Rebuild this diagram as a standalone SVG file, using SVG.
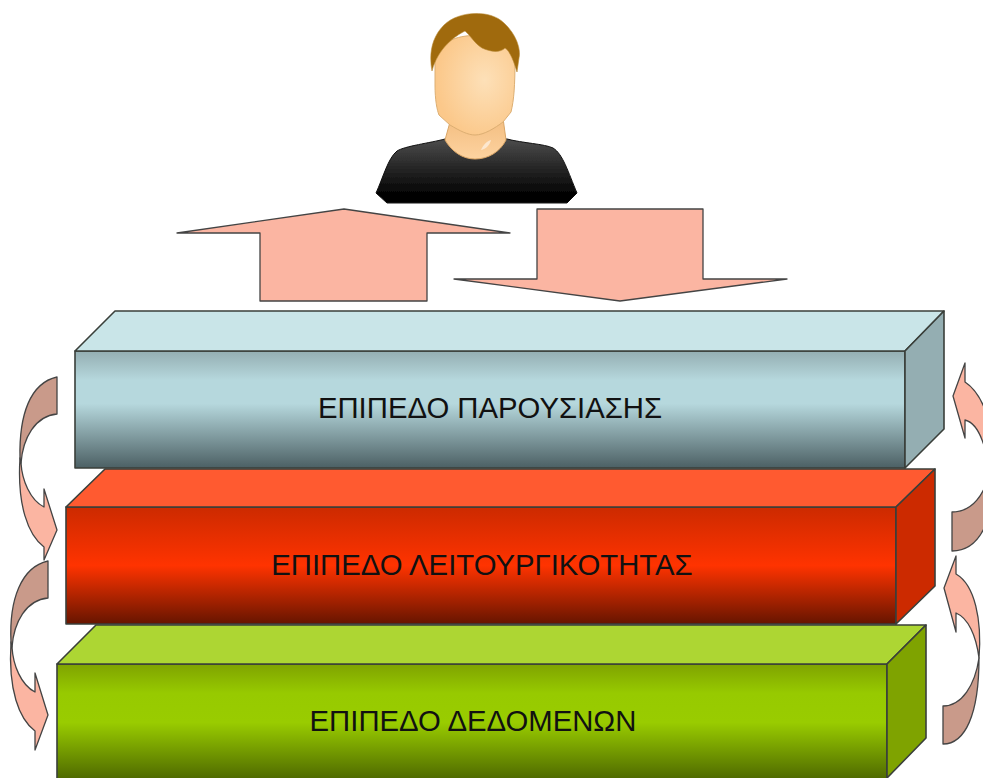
<svg xmlns="http://www.w3.org/2000/svg" width="983" height="778" viewBox="0 0 983 778">
<style>
.e{stroke:#3a3f3a;stroke-width:1.6;stroke-linejoin:round}
.arw{fill:#fbb5a2;stroke:#444;stroke-width:1.3;stroke-linejoin:round}
.drk{fill:#c99a8a}
text{font-family:"Liberation Sans",Arial,sans-serif;font-size:29.3px;fill:#111;text-anchor:middle}
</style>
<defs>
<linearGradient id="g1" x1="0" y1="0" x2="0" y2="1"><stop offset="0" stop-color="#94aeb2"/><stop offset=".25" stop-color="#b6d8dd"/><stop offset=".45" stop-color="#b6d8dd"/><stop offset="1" stop-color="#4c6064"/></linearGradient>
<linearGradient id="g2" x1="0" y1="0" x2="0" y2="1"><stop offset="0" stop-color="#cc2a00"/><stop offset=".5" stop-color="#ff3300"/><stop offset="1" stop-color="#661500"/></linearGradient>
<linearGradient id="g3" x1="0" y1="0" x2="0" y2="1"><stop offset="0" stop-color="#7fa300"/><stop offset=".25" stop-color="#97ca00"/><stop offset=".5" stop-color="#99cc00"/><stop offset="1" stop-color="#4c6600"/></linearGradient>
<linearGradient id="sh" x1="0" y1="0" x2="0" y2="1"><stop offset="0" stop-color="#4c4c4c"/><stop offset=".9" stop-color="#000"/></linearGradient>
<radialGradient id="fc" cx=".62" cy=".45" r=".6"><stop offset="0" stop-color="#fde0b8"/><stop offset="1" stop-color="#fbc88a"/></radialGradient>
<linearGradient id="nk" x1="0" y1="0" x2="0" y2="1"><stop offset="0" stop-color="#f3bd80"/><stop offset="1" stop-color="#fdd3a0"/></linearGradient>
<filter id="soft" x="-5%" y="-5%" width="110%" height="110%"><feGaussianBlur stdDeviation=".5"/></filter>
</defs>

<g id="user" filter="url(#soft)">
<path fill="url(#sh)" stroke="#111" d="M376 193C383 178 388 158 397 151C405 146 430 143 445 139L507 139C522 143 545 144 553 148C563 154 568 172 577 193L567 203L387 203Z"/>
<path fill="url(#nk)" stroke="#d9a566" d="M450 122L445 140C452 152 463 159 475 159C488 159 500 152 506 140L503 118Z"/>
<path fill="#fdeedd" opacity=".8" d="M481 150C483 145 487 141 491 140C490 145 486 149 481 150Z"/>
<path fill="url(#fc)" stroke="#dcae72" d="M435 60L435 85C435 100 437 110 439 115L450 125C460 131 468 135 475 135C484 135 495 128 503 122L511 112C514 100 515 85 515 60C512 30 440 25 435 60Z"/>
<path fill="#a06a08" stroke="#b98a3a" stroke-width=".6" d="M432 71C429 55 431 38 444 25C458 11 490 9 504 23C517 35 521 50 519 58L517 72C514 62 510 51 505 48C500 53 491 52 482 48C475 44 470 35 465 31C455 36 438 48 432 71Z"/>
</g>

<g id="connectors">
<path class="arw" d="M177 233L344 209L510 233L427 233L427 301L260 301L260 233Z"/>
<path class="arw" d="M537 209L703 209L703 279L787 279L620 301L454 279L537 279Z"/>

<g id="left-arrow-1">
<path class="arw" d="M21 463C22 480 30 500 44 507L44 489L57 530L44 560L44 547C28 535 17 505 20 458Z"/>
<path class="arw drk" d="M57 377C30 383 19 415 20 458L21 463C23 438 35 416 57 414Z"/>
</g>
<g id="left-arrow-2">
<path class="arw" d="M12 647C13 665 21 685 35 692L35 673L48 715L35 750L35 731C19 719 8 690 11 642Z"/>
<path class="arw drk" d="M48 561C21 567 9 600 11 642L12 647C14 622 26 600 48 598Z"/>
</g>
<g id="right-arrow-1">
<path class="arw" d="M965 363L953 396L965 438L965 420C978 423 986 445 990 475L995 480C995 430 985 395 965 382Z"/>
<path class="arw drk" d="M990 470C985 495 972 512 952 512L952 551C975 551 992 530 995 475Z"/>
</g>
<g id="right-arrow-2">
<path class="arw" d="M956 556L944 588L956 632L956 613C968 618 976 635 979 658C982 620 975 585 956 574Z"/>
<path class="arw drk" d="M979 658C975 685 962 706 943 706L943 744C965 744 979 715 979 658Z"/>
</g>
</g>

<g id="layer-data">
<path class="e" fill="url(#g3)" d="M57 664H887V781H57Z"/>
<path class="e" fill="#add633" d="M57 664L96 625H926L887 664Z"/>
<path class="e" fill="#7fa300" d="M887 664L926 625V738L887 778Z"/>
<text x="473" y="731">ΕΠΙΠΕΔΟ ΔΕΔΟΜΕΝΩΝ</text>
</g>
<g id="layer-function">
<path class="e" fill="url(#g2)" d="M66 507H896V624H66Z"/>
<path class="e" fill="#ff5a30" d="M66 507L105 469H935L896 507Z"/>
<path class="e" fill="#cc2a00" d="M896 507L935 469V586L896 624Z"/>
<text x="482" y="575">ΕΠΙΠΕΔΟ ΛΕΙΤΟΥΡΓΙΚΟΤΗΤΑΣ</text>
</g>
<g id="layer-presentation">
<path class="e" fill="url(#g1)" d="M75 351H905V468H75Z"/>
<path class="e" fill="#c9e5e8" d="M75 351L115 311H944L905 351Z"/>
<path class="e" fill="#94aeb2" d="M905 351L944 311V429L905 468Z"/>
<text x="490" y="418">ΕΠΙΠΕΔΟ ΠΑΡΟΥΣΙΑΣΗΣ</text>
</g>
</svg>
